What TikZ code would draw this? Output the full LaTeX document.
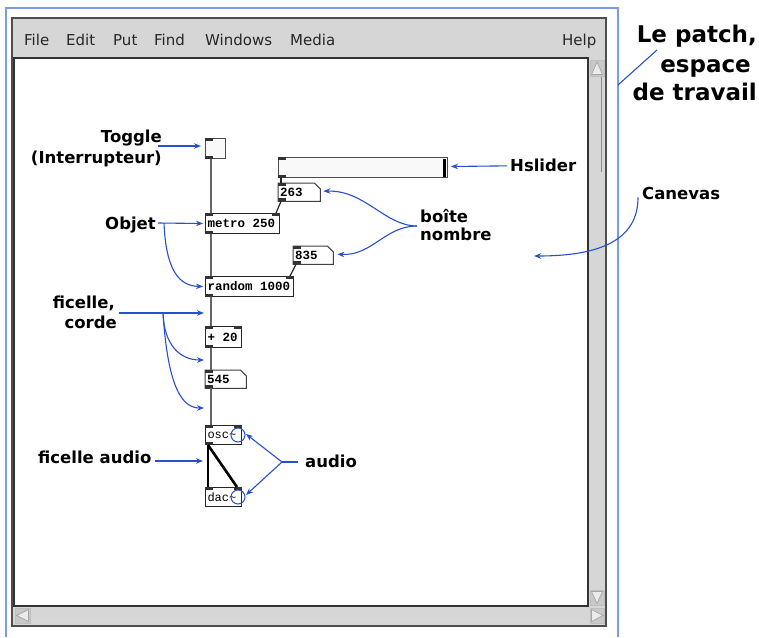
\documentclass[tikz,border=0pt]{standalone}
\usepackage{fontspec}
\setmainfont{DejaVu Sans}
\newfontfamily\monof{Liberation Mono}
\usetikzlibrary{arrows.meta}
\definecolor{annblue}{RGB}{40,80,205}
\definecolor{frameblue}{RGB}{125,155,235}
\definecolor{wingray}{RGB}{214,214,214}
\definecolor{winedge}{RGB}{78,78,78}
\definecolor{boxfill}{RGB}{249,249,249}
\definecolor{btngray}{RGB}{200,200,200}

% one full character cell of the monospaced box font
\newcommand\msp{\hspace*{0.6em}}

% outline of a Pd number box: rectangle with a clipped top-right corner
\newcommand\numoutline[1]{%
  \draw[line width=1pt, draw=black!75]
    (#1.north west) -- ([xshift=-6pt]#1.north east) -- ([yshift=-6pt]#1.north east)
    -- (#1.south east) -- (#1.south west) -- cycle;}

\begin{document}
\begin{tikzpicture}[x=1pt, y=-1pt,
  lab/.style={font=\bfseries\fontsize{16.5}{20}\selectfont, inner sep=0pt},
  biglab/.style={font=\bfseries\fontsize{23}{28}\selectfont, inner sep=0pt, anchor=base east},
  menu/.style={font=\fontsize{15}{17}\selectfont, anchor=base west, inner sep=0pt, text=black!85},
  ann/.style={draw=annblue, line width=1.1pt, -{Stealth[length=7pt,width=5.5pt]}},
  annline/.style={draw=annblue, line width=1.1pt},
  obj/.style={draw=black!85, line width=1pt, anchor=north west, inner xsep=2pt,
    inner ysep=0pt, align=left, minimum height=20pt,
    font=\monof\bfseries\fontsize{12.5}{14}\selectfont},
  nbox/.style={anchor=north west, inner xsep=2pt, inner ysep=0pt, align=left,
    minimum height=18pt, font=\monof\bfseries\fontsize{12.5}{14}\selectfont},
  gui/.style={draw=black!70, line width=1pt, fill=boxfill, anchor=north west,
    inner sep=0pt},
  iolet/.style={fill=black!80},
  cord/.style={draw=black!60, line width=1.7pt},
  thincord/.style={draw=black!85, line width=1.2pt},
  sigcord/.style={draw=black, line width=2.6pt},
  scrbtn/.style={fill=btngray, draw=black!25, line width=0.6pt},
  scrtri/.style={fill=black!8, draw=black!35, line width=0.7pt}]
\useasboundingbox (0,0) rectangle (759,637);

% ---------- window frame ----------
\draw[frameblue, line width=1.5pt] (6,637) -- (6,8) -- (618,8) -- (618,637);
\draw[fill=wingray, draw=winedge, line width=2pt] (12,18) rectangle (606,626);
\draw[fill=white, draw=black!80, line width=2pt] (14,58) rectangle (588,606);

% menu bar
\node[menu] (mFile) at (24,45) {File};
\node[menu] (mEdit) at (66,45) {Edit};
\node[menu] (mPut) at (113,45) {Put};
\node[menu] (mFind) at (154,45) {Find};
\node[menu] (mWin) at (205,45) {Windows};
\node[menu] (mMedia) at (290,45) {Media};
\node[menu] (mHelp) at (562,45) {Help};

% scrollbars
\draw[black!45, line width=1pt] (601,77) -- (601,172);
\draw[scrbtn] (590,60) rectangle (604,76);
\draw[scrtri] (591.5,74.5) -- (597,62) -- (602.5,74.5) -- cycle;
\draw[scrbtn] (590,590) rectangle (604,605);
\draw[scrtri] (591.5,591.5) -- (602.5,591.5) -- (597,603.5) -- cycle;
\draw[scrbtn] (590,608) rectangle (604,623);
\draw[scrtri] (591.5,609.5) -- (603,615.5) -- (591.5,621.5) -- cycle;
\draw[scrbtn] (15,608) rectangle (30,623);
\draw[scrtri] (28.5,609.5) -- (16.5,615.5) -- (28.5,621.5) -- cycle;
\draw[black!15, line width=0.8pt] (31,620) -- (588,620);

% ---------- patch objects ----------
\node[gui, minimum width=20pt, minimum height=20pt] (tog) at (205,138) {};
\node[gui, minimum width=169pt, minimum height=20pt] (hsl) at (278,157) {};
\draw[black, line width=3pt] ([xshift=-4pt,yshift=-1.5pt]hsl.north east) -- ([xshift=-4pt,yshift=1.5pt]hsl.south east);

\node[nbox, text width=38pt] (n263) at (278,183) {263};
\node[obj, text width=70pt] (metro) at (205,213) {\mbox{metro\msp250}};
\node[nbox, text width=36pt] (n835) at (293,246) {835};
\node[obj, text width=84pt] (rnd) at (205,276) {\mbox{random\msp1000}};
\node[obj, text width=32pt, minimum height=21pt] (plus) at (205,326) {\mbox{+\msp20}};
\node[nbox, text width=37pt] (n545) at (205,370) {545};
\node[obj, text width=32pt, minimum height=19pt, font=\monof\fontsize{12}{13}\selectfont] (osc) at (205,425) {\mbox{osc\char"007E}};
\node[obj, text width=32pt, minimum height=19pt, font=\monof\fontsize{12}{13}\selectfont] (dac) at (205,487) {\mbox{dac\char"007E}};
\numoutline{n263}
\numoutline{n835}
\numoutline{n545}

% inlets and outlets
\foreach \n in {tog,hsl,n263,metro,n835,rnd,plus,n545,osc,dac}
  \fill[iolet] (\n.north west) rectangle ++(8,3);
\foreach \n in {tog,hsl,n263,metro,n835,rnd,plus,n545,osc}
  \fill[iolet] (\n.south west) rectangle ++(8,-3);
\foreach \n in {metro,rnd,plus,osc,dac}
  \fill[iolet] (\n.north east) rectangle ++(-8,3);

% patch cords
\draw[cord] ([xshift=6pt]tog.south west) -- ([xshift=6pt]metro.north west);
\draw[cord] ([xshift=6pt]metro.south west) -- ([xshift=6pt]rnd.north west);
\draw[cord] ([xshift=6pt]rnd.south west) -- ([xshift=6pt]plus.north west);
\draw[cord] ([xshift=6pt]plus.south west) -- ([xshift=6pt]n545.north west);
\draw[cord] ([xshift=6pt]n545.south west) -- ([xshift=6pt]osc.north west);
\draw[thincord] ([xshift=3pt]hsl.south west) -- ([xshift=3pt]n263.north west);
\draw[thincord] ([xshift=3pt]n263.south west) -- ([xshift=-4pt]metro.north east);
\draw[thincord] ([xshift=3pt]n835.south west) -- ([xshift=-4pt]rnd.north east);
\draw[sigcord] ([xshift=3pt]osc.south west) -- ([xshift=3pt]dac.north west);
\draw[sigcord] ([xshift=3pt]osc.south west) -- ([xshift=-5pt]dac.north east);

% audio markers
\draw[annblue, line width=1pt] ([xshift=-4pt]osc.east) circle[radius=7pt];
\draw[annblue, line width=1pt] ([xshift=-4pt]dac.east) circle[radius=7pt];

% ---------- annotations ----------
\node[biglab] (lp1) at (757,42) {Le patch,};
\node[biglab] (lp2) at (751,72) {espace};
\node[biglab] (lp3) at (757,100) {de travail};
\coordinate (frameR) at (618,85);
\coordinate (lpEnd) at (657,50);
\draw[annline] (frameR) -- (lpEnd);

\node[lab, anchor=base east] (togA) at (162,142) {Toggle};
\node[lab, anchor=base east] (togB) at (162,163) {(Interrupteur)};
\coordinate (togTip) at (201,146);
\draw[ann] ([xshift=-4pt]togA.east |- togTip) -- (togTip);

\node[lab, anchor=base east] (objL) at (156,229) {Objet};
\coordinate (objJ) at (164,223);
\draw[ann] ([xshift=2pt]objL.east |- objJ) -- ([xshift=-2pt]metro.west);
\draw[ann] (objJ) .. controls (166,272) and (180,286) .. ([xshift=-2pt]rnd.west);

\node[lab, anchor=base west] (hslL) at (510,171) {Hslider};
\draw[ann] ([xshift=-3pt]hslL.west) ++(0,1) -- ([xshift=3pt,yshift=1pt]hsl.east);

\node[lab, anchor=base west] (nbA) at (420,222) {boîte};
\node[lab, anchor=base west] (nbB) at (420,240) {nombre};
\coordinate (nbJ) at (417,226);
\draw[ann] (nbJ) .. controls (385,226) and (365,190) .. ([xshift=3pt,yshift=1pt]n263.east);
\draw[ann] (nbJ) .. controls (385,226) and (372,256) .. ([xshift=4pt,yshift=1pt]n835.east);

\node[lab, anchor=base west] (canL) at (642,199) {Canevas};
\coordinate (canvasPt) at (534,256);
\draw[ann] ([xshift=-4pt,yshift=2pt]canL.south west) .. controls (638,240) and (600,256) .. (canvasPt);

\node[lab, anchor=base east] (ficA) at (115,308) {ficelle,};
\node[lab, anchor=base east] (ficB) at (117,328) {corde};
\coordinate (cordA) at (204,313);
\coordinate (cordB) at (204,360);
\coordinate (cordC) at (204,408);
\coordinate (ficJ) at (163,313);
\draw[ann] ([xshift=2pt]ficB.east |- cordA) -- (cordA);
\draw[ann] (ficJ) .. controls (164,345) and (180,360) .. (cordB);
\draw[ann] (ficJ) .. controls (168,390) and (183,408) .. (cordC);

\node[lab, anchor=base west] (faL) at (38,463) {ficelle audio};
\coordinate (sigCord) at (203,461);
\draw[ann] ([xshift=3pt]faL.east |- sigCord) -- (sigCord);

\node[lab, anchor=base west] (audL) at (305,467) {audio};
\coordinate (audJ) at (282,462);
\draw[annline] ([xshift=-7pt]audL.west |- audJ) -- (audJ);
\draw[ann] (audJ) -- ([xshift=4pt,yshift=1pt]osc.east);
\draw[ann] (audJ) -- ([xshift=4pt,yshift=2pt]dac.east);
\end{tikzpicture}
\end{document}
